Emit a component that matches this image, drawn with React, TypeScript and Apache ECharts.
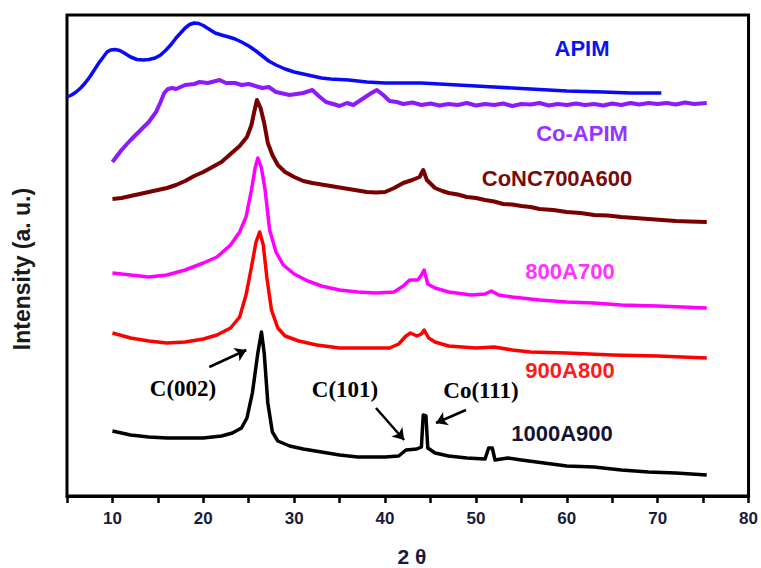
import React, { useEffect, useRef } from "react";
import * as echarts from "echarts";

// 2θ ticks
const xTicks = [10, 20, 30, 40, 50, 60, 70, 80];

// XRD patterns: [2θ, intensity (arbitrary, offset)]
const apim: number[][] = [
  [5, 399], [5.5, 401], [6, 404], [6.5, 408], [7, 413], [7.5, 419], [8, 426], [8.5, 433],
  [9, 439], [9.4, 444], [9.8, 446], [10.3, 446.5], [10.8, 445.5], [11.3, 443], [12, 439],
  [12.7, 436.5], [13.4, 436], [14, 436.5], [14.7, 438], [15.3, 441], [15.9, 446], [16.5, 452],
  [17, 458], [17.5, 463], [18, 468], [18.5, 471.5], [19, 473], [19.5, 472.5], [20, 470.5],
  [20.6, 467], [21.3, 463], [22, 461], [22.8, 459], [23.5, 457], [24.2, 454], [25, 450],
  [25.8, 445], [26.5, 440], [27.2, 435], [28, 431], [29, 427], [30, 424], [31, 422], [32, 420],
  [33, 418], [34, 417], [36, 416], [38, 414], [40, 413], [44, 413], [48, 411], [52, 409],
  [56, 407], [60, 405], [64, 404], [67, 403], [70.4, 403],
];

const coApim: number[][] = [
  [10, 334], [11, 346], [12, 356], [13, 365], [14, 374], [14.8, 384], [15.3, 394], [15.7, 403],
  [16.1, 407], [16.6, 408], [17, 407], [18, 411], [19, 412], [19.6, 414], [20.5, 413], [21.8, 416],
  [22.5, 413], [23.5, 413], [24.2, 411], [25, 412], [26.5, 408], [27.2, 409], [28, 404],
  [29.5, 401], [31, 403], [32, 406], [32.7, 400], [33.5, 394], [34.3, 392], [35, 390],
  [35.8, 393], [36.5, 391], [37.5, 397], [38.5, 403], [39.1, 406], [39.8, 401], [40.5, 395],
  [41.3, 394], [42, 392], [43, 393.5], [44, 391], [45, 392.5], [46, 390.5], [47, 392], [48, 391],
  [49, 393], [50, 390.5], [51, 392], [52, 391], [53, 392.5], [54, 390], [55, 392], [56, 391.5],
  [57, 393], [58, 390.5], [59, 392], [60, 391], [61, 392.5], [62, 391], [63, 392], [64, 390.5],
  [65, 392.5], [66, 391], [67, 393], [68, 391.5], [69, 393], [70, 392], [71, 393], [72, 391.5],
  [73, 393.5], [74, 392], [75.4, 393],
];

const coNC700A600: number[][] = [
  [10, 297], [11, 298], [12, 300], [13, 302], [14, 304], [15, 306], [16, 308], [17, 311],
  [18, 315], [19, 320], [20, 324], [21, 329], [22, 334], [23, 342], [24, 350], [24.8, 359],
  [25.3, 371], [25.6, 384], [25.9, 396], [26.3, 388], [26.7, 373], [27.1, 353], [27.6, 341],
  [28.2, 331], [29, 324], [30, 319], [31, 315], [32, 313], [33, 311.5], [34, 310], [35, 308.5],
  [36, 307], [37, 305.5], [38, 304], [39, 303.5], [40, 304], [41, 308], [42, 313], [43, 316],
  [43.8, 319], [44.2, 326], [44.6, 316], [45.5, 308], [46.3, 305], [47, 303], [48, 301.5],
  [49, 299], [50, 298], [51, 296], [52, 294.5], [53, 292], [54, 291.5], [55, 290], [56, 289],
  [57, 287], [58.5, 286], [60, 284], [61.5, 283], [63, 281], [64.5, 280.5], [66, 279],
  [67.5, 278], [69, 277], [70.5, 276], [72, 275], [73.5, 274.5], [75.4, 274],
];

const s800A700: number[][] = [
  [10, 223], [12, 221], [14, 219], [16, 221], [18, 226], [20, 233], [21.5, 239], [23, 251],
  [24, 264], [24.7, 279], [25.3, 306], [25.7, 328], [26, 338], [26.4, 328], [26.8, 306],
  [27.3, 266], [28, 244], [28.8, 231], [30, 222], [31.5, 215], [33, 210], [35, 206],
  [37, 204], [39, 203], [41, 204], [42, 210], [42.7, 216], [43.6, 216], [44, 221],
  [44.3, 226], [44.7, 212], [45.5, 208], [47, 204], [49.5, 201], [51, 202], [51.7, 205],
  [52.5, 201], [54, 199], [57, 196], [60, 194], [63, 193], [66, 191], [70, 190], [75.4, 188],
];

const s900A800: number[][] = [
  [10, 163], [12, 158], [14, 155], [16, 153], [18, 154], [20, 157], [21.5, 161], [23, 168],
  [24, 179], [24.7, 201], [25.3, 229], [25.8, 254], [26.2, 264], [26.6, 251], [27, 218],
  [27.5, 186], [28.2, 168], [29, 160], [30.5, 155], [32.5, 151], [35, 148], [38, 148],
  [40.5, 148], [41.5, 152], [42.3, 160], [42.8, 163], [43.5, 160], [44, 162], [44.3, 166],
  [44.8, 158], [45.5, 154], [47, 150], [50, 148], [52, 149], [54, 146], [56, 144], [60, 143],
  [65, 141], [70, 140], [75.4, 138],
];

const s1000A900: number[][] = [
  [10, 65], [12, 61], [14, 59], [16, 58], [18, 58], [20, 58], [22, 60], [23.2, 63], [24.2, 68],
  [24.8, 78], [25.4, 103], [26, 143], [26.4, 164], [26.7, 143], [27.1, 93], [27.6, 64],
  [28.2, 55], [29.5, 50], [31, 47], [33, 44], [35, 41], [37, 39], [40, 39], [41.5, 40],
  [42.3, 46], [43.5, 47], [44, 49], [44.2, 81], [44.5, 80], [44.7, 48], [45.5, 43], [47, 40],
  [49, 38], [51, 37], [51.4, 48], [51.8, 48], [52.1, 36], [53.5, 38], [55, 36], [57.5, 33],
  [60, 30], [63, 29], [66, 26], [69, 24], [72, 23], [75.4, 21],
];

// Annotation arrows (data coordinates: from -> to)
const arrows: number[][][] = [
  [[20.66, 129], [24.73, 146]],
  [[39.0, 88], [42.1, 56]],
  [[48.9, 86], [45.6, 73]],
];

const SANS = "Liberation Sans, Arial, sans-serif";
const SERIF = "Liberation Serif, Times New Roman, serif";

export default function App() {
  const ref = useRef<HTMLDivElement>(null);
  useEffect(() => {
    if (!ref.current) return;
    const chart = echarts.init(ref.current, undefined, { renderer: "svg" });
    const lineSeries = (name: string, data: number[][], color: string, width = 3.5) => ({
      name,
      type: "line",
      data,
      showSymbol: false,
      lineStyle: { color, width, join: "round" },
      itemStyle: { color },
      silent: true,
    });
    const textEl = (
      text: string,
      x: number,
      y: number,
      fill: string,
      family: string,
      size: number,
      rotation = 0
    ) => ({
      type: "text",
      x,
      y,
      rotation,
      style: {
        text,
        fill,
        fontFamily: family,
        fontSize: size,
        fontWeight: "bold",
        align: "center",
        verticalAlign: "middle",
      },
    });
    chart.setOption({
      animation: false,
      grid: {
        left: 67,
        right: 9,
        top: 15,
        bottom: 72,
        show: true,
        borderColor: "#000",
        borderWidth: 3,
      },
      xAxis: {
        type: "value",
        min: 5,
        max: 80,
        interval: 5,
        axisLine: { show: true, lineStyle: { color: "#000", width: 3 } },
        axisTick: { show: true, length: 7, lineStyle: { color: "#000", width: 2.5 } },
        splitLine: { show: false },
        axisLabel: {
          margin: 14,
          color: "#1a1a3a",
          fontFamily: SANS,
          fontWeight: "bold",
          fontSize: 17,
          formatter: (v: number) => (xTicks.includes(v) ? String(v) : ""),
        },
      },
      yAxis: {
        type: "value",
        min: 0,
        max: 481,
        show: false,
        splitLine: { show: false },
      },
      series: [
        lineSeries("APIM", apim, "#0a0af5"),
        lineSeries("Co-APIM", coApim, "#8c1aff", 4),
        lineSeries("CoNC700A600", coNC700A600, "#780000", 4),
        lineSeries("800A700", s800A700, "#ff00ff"),
        lineSeries("900A800", s900A800, "#ff0000"),
        {
          ...lineSeries("1000A900", s1000A900, "#000000"),
          markLine: {
            silent: true,
            symbol: ["none", "arrow"],
            symbolSize: 11,
            label: { show: false },
            lineStyle: { color: "#000", width: 2.5, type: "solid" },
            data: arrows.map((a) => [{ coord: a[0] }, { coord: a[1] }]),
          },
        },
      ],
      graphic: [
        textEl("APIM", 582, 48, "#0a14f0", SANS, 22),
        textEl("Co-APIM", 582, 133, "#9933ff", SANS, 22),
        textEl("CoNC700A600", 557, 178, "#7a0a0a", SANS, 22),
        textEl("800A700", 570, 271, "#ff33ff", SANS, 22),
        textEl("900A800", 570, 370, "#ff1a1a", SANS, 22),
        textEl("1000A900", 562, 433, "#141432", SANS, 22),
        textEl("C(002)", 183, 388, "#000", SERIF, 23),
        textEl("C(101)", 345, 389, "#000", SERIF, 23),
        textEl("Co(111)", 481, 390, "#000", SERIF, 23),
        textEl("Intensity (a. u.)", 22, 269, "#1a1a1a", SANS, 23, Math.PI / 2),
        textEl("2 θ", 412, 556, "#1a1a3a", SANS, 21),
      ],
    });
    return () => chart.dispose();
  }, []);
  return <div ref={ref} style={{ width: 761, height: 568, position: "absolute", left: 0, top: 0 }} />;
}
